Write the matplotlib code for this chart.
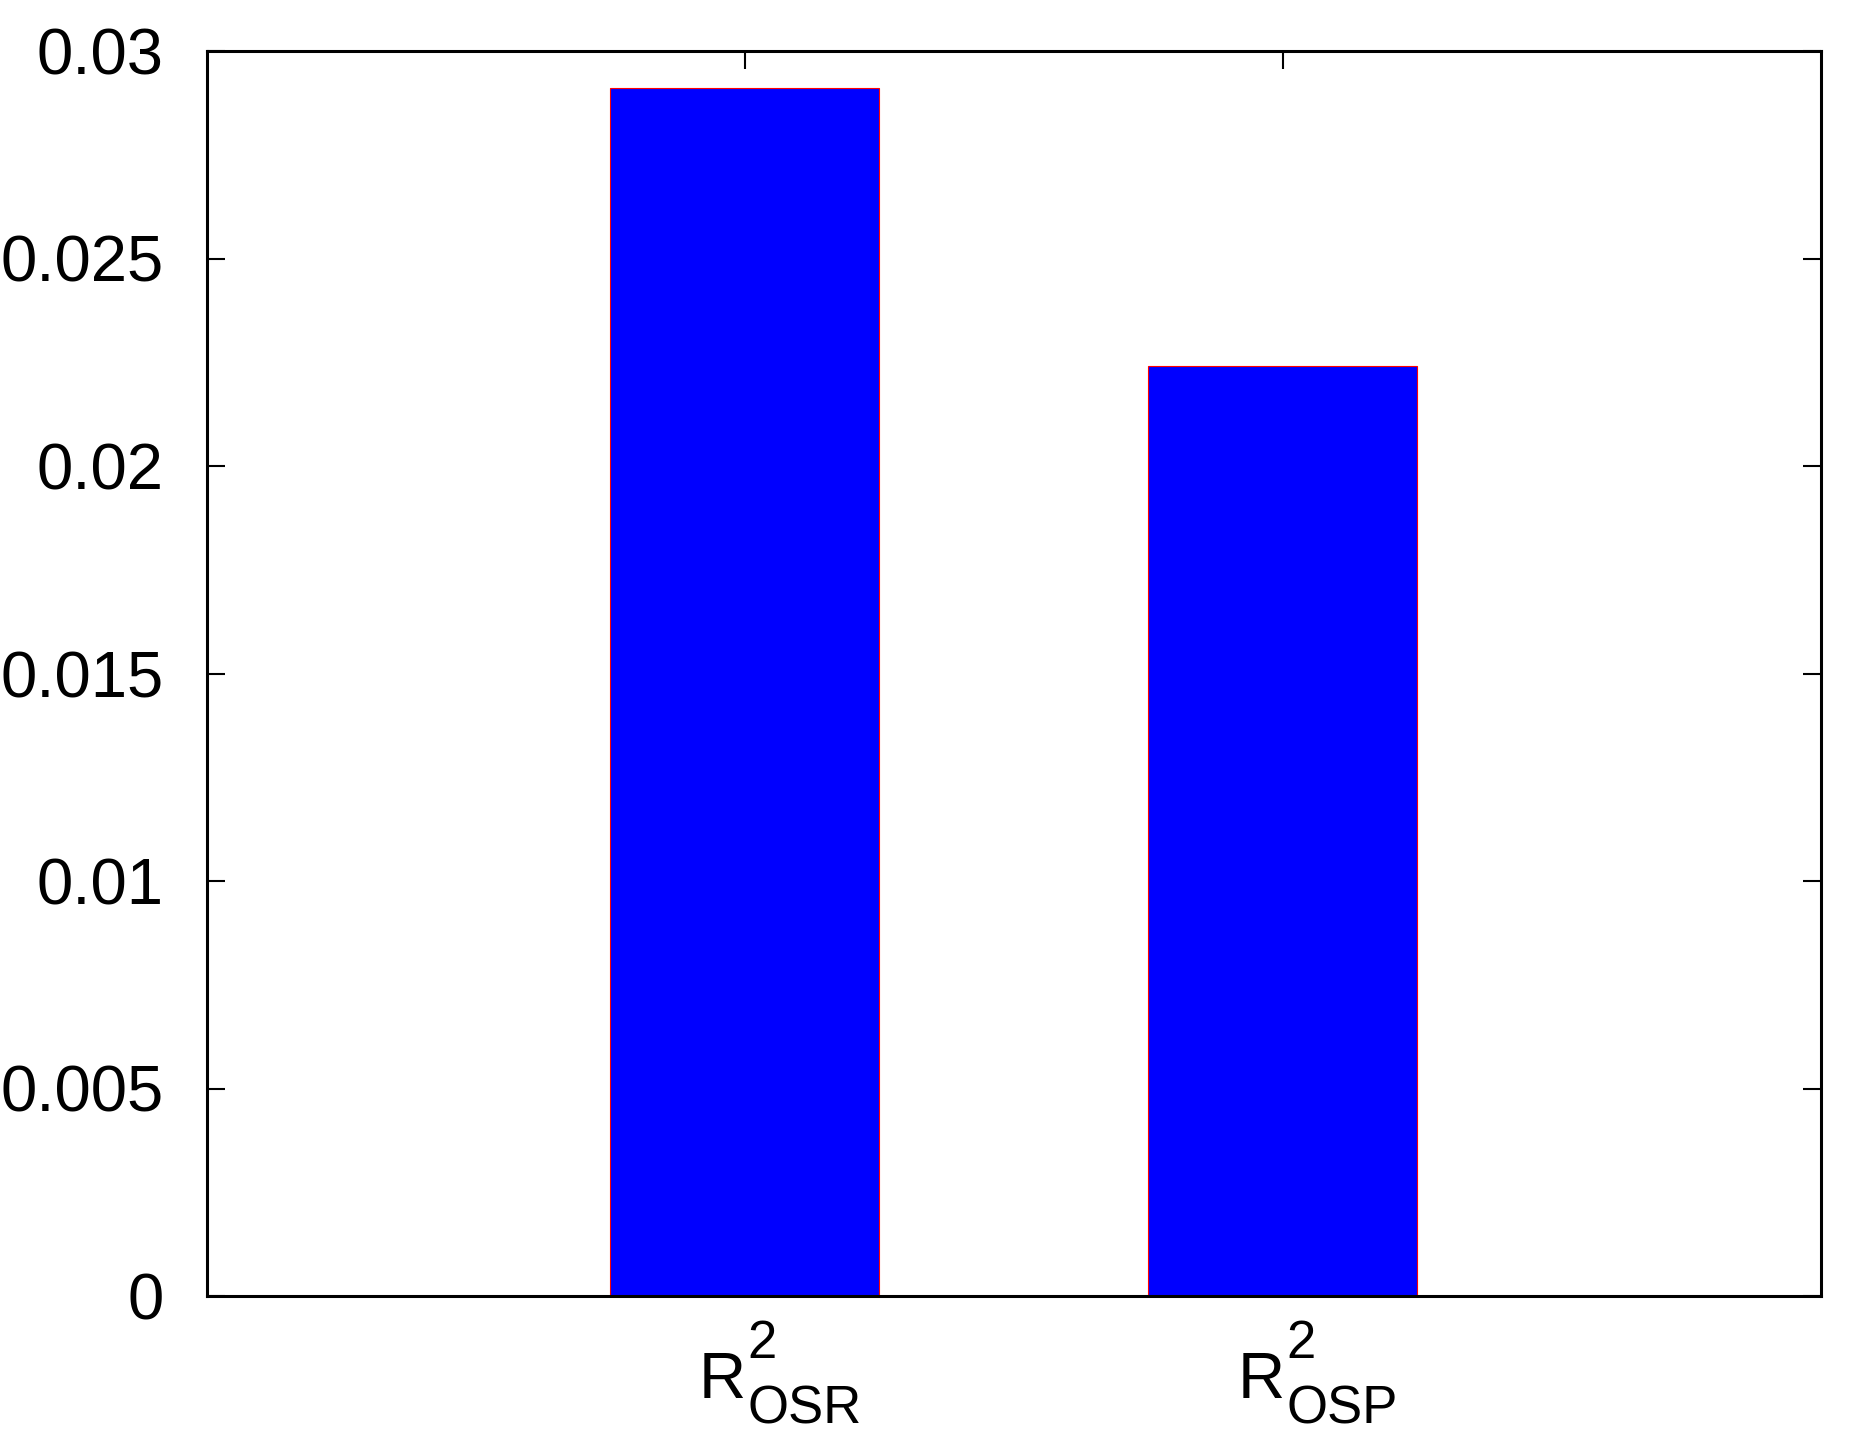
import matplotlib.pyplot as plt
from matplotlib import transforms

categories = ['OSR', 'OSP']
values = [0.0291, 0.0224]
yticks = [0, 0.005, 0.01, 0.015, 0.02, 0.025, 0.03]
ytick_labels = ['0', '0.005', '0.01', '0.015', '0.02', '0.025', '0.03']

plt.rcParams['font.family'] = ['Liberation Sans', 'DejaVu Sans']

fig = plt.figure(figsize=(18.58, 14.54), dpi=100)
ax = fig.add_axes([207 / 1858, 1 - 1296 / 1454, (1821 - 207) / 1858, (1296 - 51) / 1454])

x = list(range(len(values)))
ax.bar(x, values, width=0.5, color='#0000ff', edgecolor='red', linewidth=0.8, zorder=1)

ax.set_xlim(-1, 2)
ax.set_ylim(0, 0.03)
ax.set_yticks(yticks)
ax.set_yticklabels(ytick_labels)
ax.set_xticks(x)
ax.set_xticklabels([])

ax.tick_params(axis='y', direction='in', length=13, width=1.5, right=True, labelsize=47, pad=31)
ax.tick_params(axis='x', direction='in', length=13, width=1.5, top=True, bottom=False)
for s in ax.spines.values():
    s.set_linewidth(2.2)
    s.set_zorder(3)

# x labels R^2_sub drawn as separate texts, gnuplot style
base = transforms.blended_transform_factory(ax.transData, ax.transAxes)
renderer = fig.canvas.get_renderer()
big, small = 47, 38
for i, cat in zip(x, categories):
    def place(txt, dx, dy, size):
        tr = base + transforms.ScaledTranslation(dx / 100, dy / 100, fig.dpi_scale_trans)
        return ax.text(i, 0, txt, transform=tr, fontsize=size, ha='left', va='baseline')
    r = place('R', 0, -102, big)
    sup = place('2', 0, -66, small)
    sub = place(cat, 0, -127, small)
    w_r = r.get_window_extent(renderer).width
    w_s = max(sup.get_window_extent(renderer).width, sub.get_window_extent(renderer).width)
    left = 35 - (w_r + 2 + w_s) / 2
    r.set_transform(base + transforms.ScaledTranslation(left / 100, -102 / 100, fig.dpi_scale_trans))
    sx = left + w_r + 2
    sup.set_transform(base + transforms.ScaledTranslation(sx / 100, -62 / 100, fig.dpi_scale_trans))
    sub.set_transform(base + transforms.ScaledTranslation(sx / 100, -127 / 100, fig.dpi_scale_trans))

fig.savefig('out.png', dpi=100)
